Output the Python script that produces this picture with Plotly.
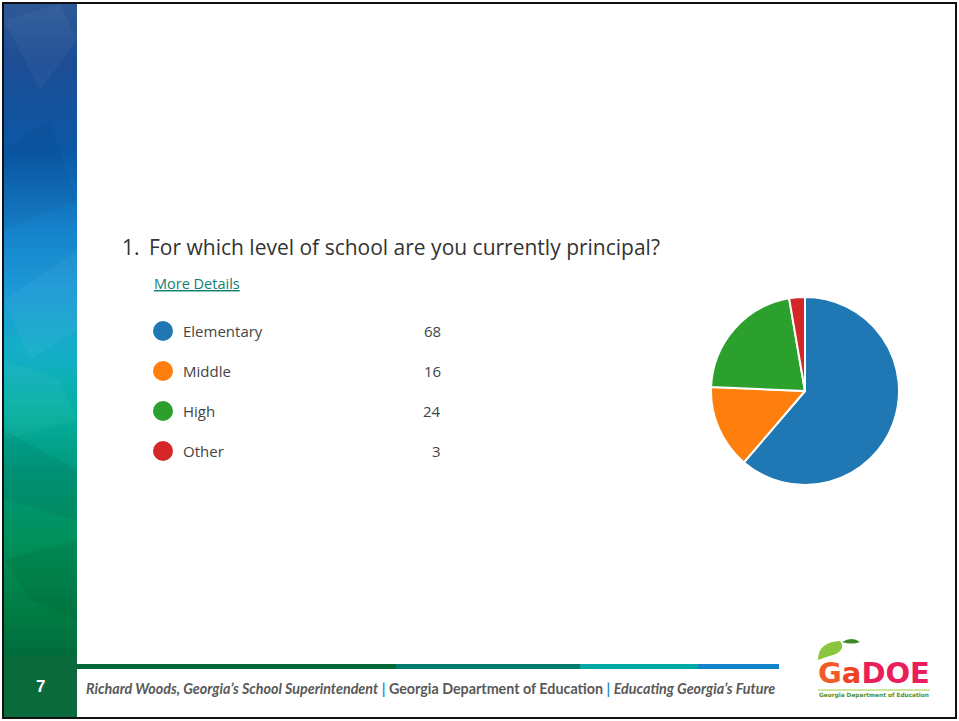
import plotly.graph_objects as go

# ---- data ----
question = "For which level of school are you currently principal?"
categories = ["Elementary", "Middle", "High", "Other"]
counts = [68, 16, 24, 3]
colors = ["#1f77b4", "#ff7f0e", "#2ca02c", "#d62728"]

W, H = 959, 721

def hex2rgb(h):
    h = h.lstrip("#")
    return tuple(int(h[i:i + 2], 16) for i in (0, 2, 4))

def lerp(c1, c2, t):
    a, b = hex2rgb(c1), hex2rgb(c2)
    return "rgb(%d,%d,%d)" % tuple(round(a[i] + (b[i] - a[i]) * t) for i in range(3))

# left strip gradient stops (y, colour)
stops = [(0, "#2f5a98"), (60, "#1d4d94"), (150, "#0b58a6"), (230, "#1683cc"),
         (290, "#1c9ad6"), (350, "#14aec8"), (410, "#05b0a0"), (470, "#00987c"),
         (540, "#00905a"), (610, "#007c44"), (656, "#006b3b")]

shapes = []
step = 3
y = 4
while y < 656:
    for i in range(len(stops) - 1):
        if stops[i][0] <= y <= stops[i + 1][0]:
            t = (y - stops[i][0]) / (stops[i + 1][0] - stops[i][0])
            col = lerp(stops[i][1], stops[i + 1][1], t)
            break
    shapes.append(dict(type="rect", xref="x", yref="y", x0=4, x1=77, y0=y, y1=min(y + step, 656),
                       fillcolor=col, line=dict(width=0), layer="below"))
    y += step

# faceted overlays (subtle)
facets = [
    ("M4,20 L60,4 L77,40 L40,90 Z", "rgba(255,255,255,0.04)"),
    ("M4,300 L77,250 L77,330 L30,360 Z", "rgba(255,255,255,0.04)"),
    ("M4,430 L77,470 L77,520 L4,500 Z", "rgba(0,0,0,0.05)"),
    ("M4,150 L50,120 L77,200 L4,230 Z", "rgba(0,0,0,0.04)"),
    ("M4,560 L77,540 L77,620 L30,600 Z", "rgba(0,0,0,0.05)"),
    ("M4,360 L60,380 L77,420 L4,440 Z", "rgba(255,255,255,0.04)"),
]
for p, c in facets:
    shapes.append(dict(type="path", xref="x", yref="y", path=p, fillcolor=c, line=dict(width=0), layer="below"))

# bottom page-number block
shapes.append(dict(type="rect", xref="x", yref="y", x0=4, x1=77, y0=656, y1=718,
                   fillcolor="#0b6a3c", line=dict(width=0), layer="below"))

# footer rule segments
rule = [(77, 396, "#006837"), (396, 580, "#007a6a"), (580, 698, "#00a9a5"), (698, 779, "#1184cc")]
for x0, x1, c in rule:
    shapes.append(dict(type="rect", xref="x", yref="y", x0=x0, x1=x1, y0=664, y1=669,
                       fillcolor=c, line=dict(width=0)))

# frame
shapes.append(dict(type="rect", xref="x", yref="y", x0=3, x1=956, y0=3, y1=718,
                   line=dict(color="#111111", width=2), fillcolor="rgba(0,0,0,0)"))

# logo decorations
shapes.append(dict(type="path", xref="x", yref="y",
                   path="M818,660 Q818,642 840,641 Q846,648 836,654 Q826,657 818,660 Z",
                   fillcolor="#8cc63f", line=dict(width=0)))
shapes.append(dict(type="path", xref="x", yref="y",
                   path="M842,642 Q852,636 860,642 Q852,645 842,642 Z",
                   fillcolor="#3a8a2a", line=dict(width=0)))
shapes.append(dict(type="line", xref="x", yref="y", x0=818, x1=930, y0=690, y1=690,
                   line=dict(color="#9ccc3c", width=1)))

fig = go.Figure()

# pie
fig.add_trace(go.Pie(
    labels=categories, values=counts, sort=False, direction="clockwise", rotation=0,
    marker=dict(colors=colors, line=dict(color="white", width=2)),
    textinfo="none", hoverinfo="label+value", showlegend=False,
    domain=dict(x=[711 / W, 899 / W], y=[(H - 486) / H, (H - 296) / H]),
))

# legend dots, labels, values
row0, gap = 331, 40
ys = [row0 + i * gap for i in range(len(categories))]
fig.add_trace(go.Scatter(
    x=[163] * len(categories), y=ys, mode="markers",
    marker=dict(size=20, color=colors, line=dict(width=0)),
    hoverinfo="skip", showlegend=False, xaxis="x", yaxis="y"))

annotations = []
for cat, val, yy in zip(categories, counts, ys):
    annotations.append(dict(x=181, y=yy, xref="x", yref="y", text=cat, showarrow=False,
                            xanchor="left", yanchor="middle",
                            font=dict(family="Open Sans", size=15, color="#444444")))
    annotations.append(dict(x=443, y=yy, xref="x", yref="y", text=str(val), showarrow=False,
                            xanchor="right", yanchor="middle",
                            font=dict(family="Open Sans", size=15, color="#444444")))

annotations += [
    dict(x=120, y=247, xref="x", yref="y", text="1.", showarrow=False, xanchor="left", yanchor="middle",
         font=dict(family="Open Sans", size=21, color="#333333")),
    dict(x=147, y=247, xref="x", yref="y", text=question, showarrow=False, xanchor="left", yanchor="middle",
         font=dict(family="Open Sans", size=21, color="#333333")),
    dict(x=152, y=283, xref="x", yref="y", text="<u>More Details</u>", showarrow=False,
         xanchor="left", yanchor="middle",
         font=dict(family="Open Sans", size=14.5, color="#13806f")),
    dict(x=40, y=686, xref="x", yref="y", text="<b>7</b>", showarrow=False, xanchor="center", yanchor="middle",
         font=dict(family="Liberation Sans", size=17, color="white")),
    dict(x=84, y=688, xref="x", yref="y",
         text=("<b><i>Richard Woods, Georgia’s School Superintendent</i> "
               "<span style='color:#1a8fd0'>|</span> Georgia Department of Education "
               "<span style='color:#1a8fd0'>|</span> <i>Educating Georgia’s Future</i></b>"),
         showarrow=False, xanchor="left", yanchor="middle",
         font=dict(family="Lato", size=14.3, color="#595959")),
    dict(x=816, y=673, xref="x", yref="y",
         text=("<b><span style='color:#f15a29'>G</span><span style='color:#ee4323'>a</span>"
               "<span style='color:#e91e5a'>DOE</span></b>"),
         showarrow=False, xanchor="left", yanchor="middle",
         font=dict(family="DejaVu Sans", size=29, color="#e91e5a")),
    dict(x=874, y=695, xref="x", yref="y", text="<b>Georgia Department of Education</b>", showarrow=False,
         xanchor="center", yanchor="middle",
         font=dict(family="DejaVu Sans", size=5.8, color="#4f8f2a")),
]

fig.update_layout(
    width=W, height=H, margin=dict(l=0, r=0, t=0, b=0),
    paper_bgcolor="white", plot_bgcolor="rgba(0,0,0,0)",
    xaxis=dict(range=[0, W], visible=False, fixedrange=True, domain=[0, 1]),
    yaxis=dict(range=[H, 0], visible=False, fixedrange=True, domain=[0, 1]),
    shapes=shapes, annotations=annotations, showlegend=False,
)

fig.write_html("out.html")
